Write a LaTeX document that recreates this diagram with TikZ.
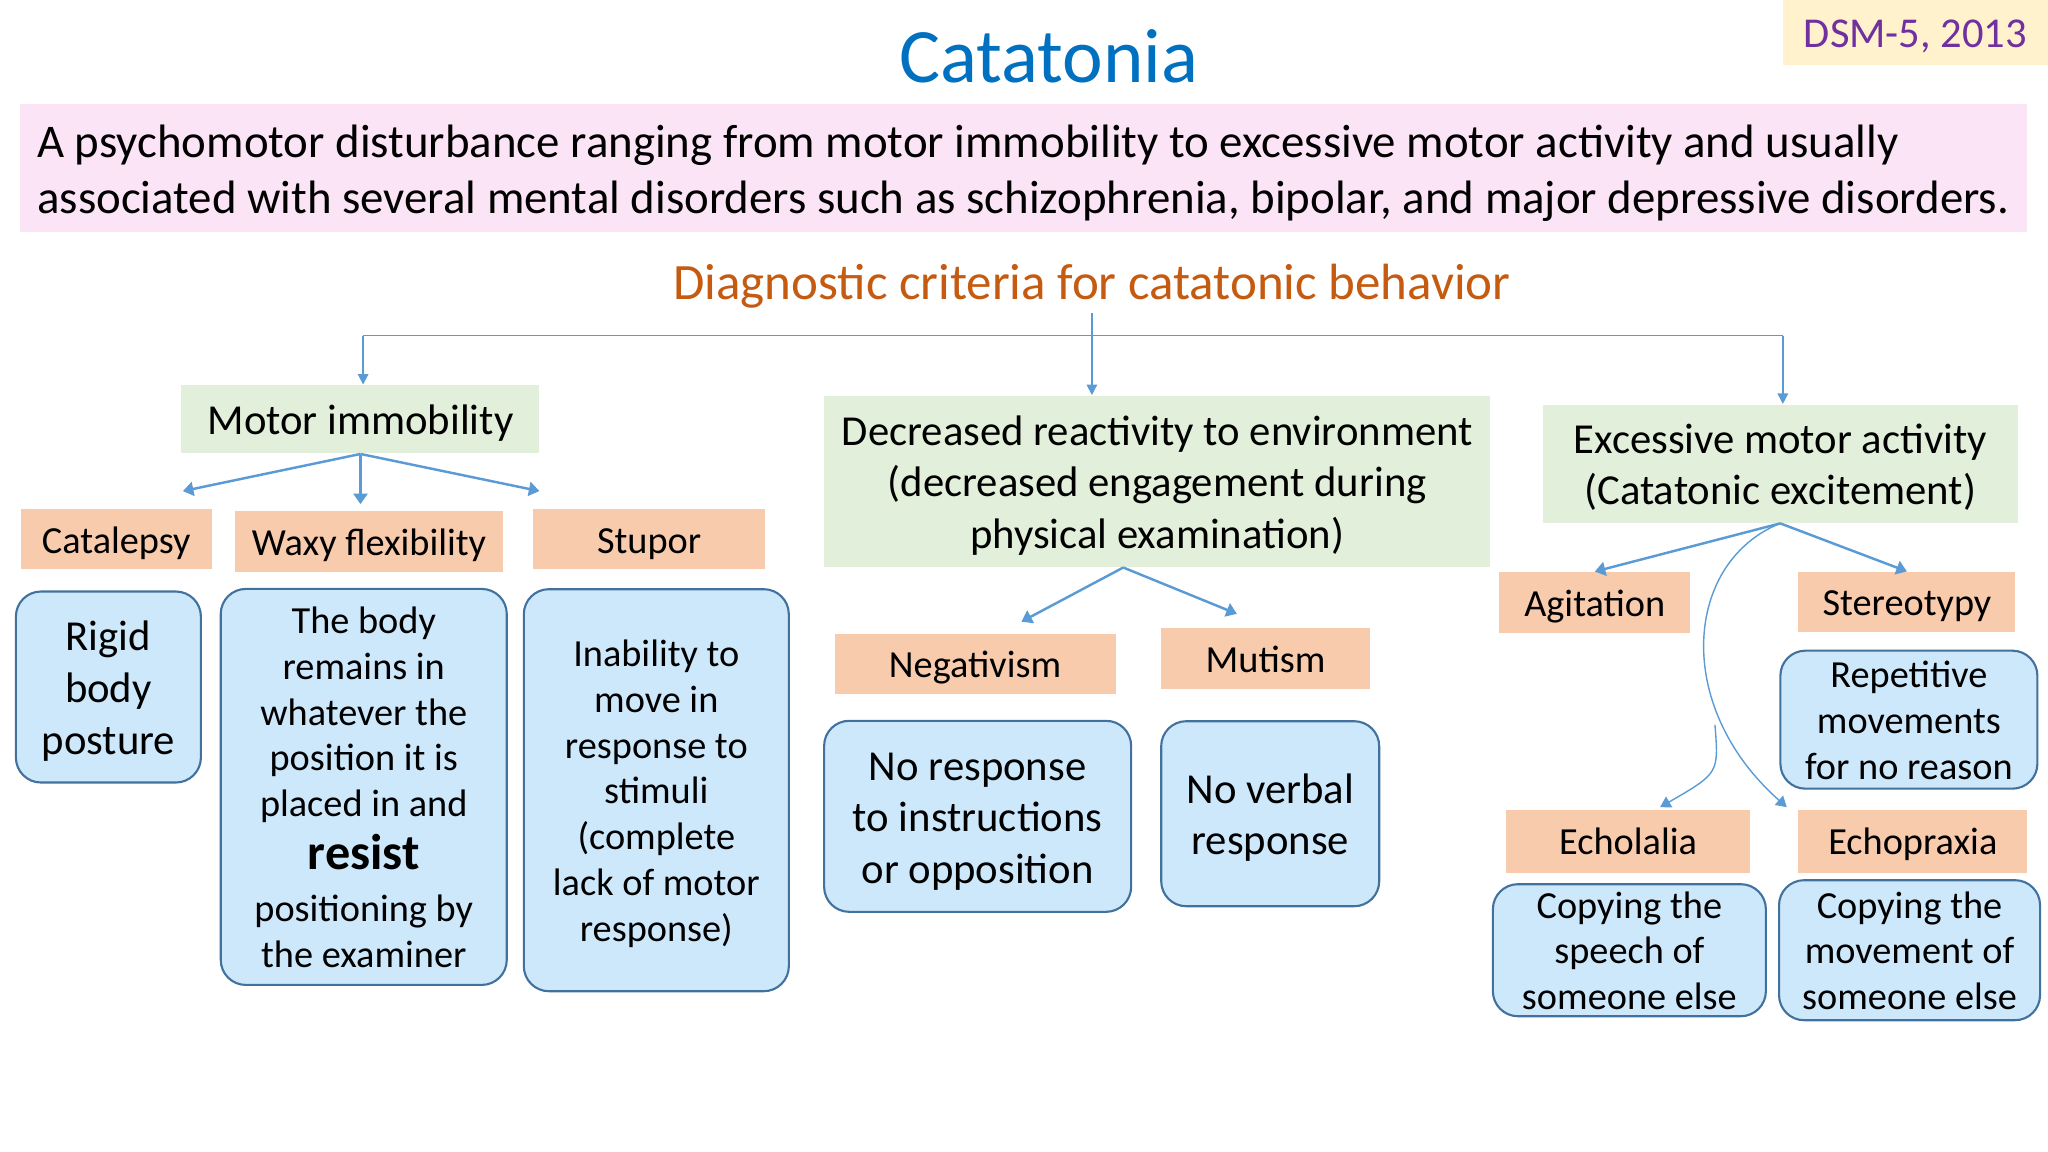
\documentclass[tikz,border=0pt]{standalone}
\usepackage{fontspec}
\setmainfont{Carlito}
\usepackage{tikz}
\usepackage{xcolor}
\usetikzlibrary{positioning,arrows.meta,calc}
\definecolor{titleblue}{HTML}{0070C0}
\definecolor{dsmpurple}{HTML}{7030A0}
\definecolor{dsmyellow}{HTML}{FFF2CC}
\definecolor{descpink}{HTML}{FCE4F7}
\definecolor{critorange}{HTML}{C55A11}
\definecolor{boxgreen}{HTML}{E2EFDA}
\definecolor{boxorange}{HTML}{F8CBAD}
\definecolor{boxblue}{HTML}{CDE8FB}
\definecolor{edgeblue}{HTML}{41719C}
\definecolor{lineblue}{HTML}{5B9BD5}
\newcommand{\bigtxt}{\fontsize{12.15}{14.7}\selectfont}
\newcommand{\smalltxt}{\fontsize{10.9}{13}\selectfont}
\newcommand{\upstrut}{\rule{0pt}{0.97em}}
\newcommand{\downstrut}{\rule[-0.25em]{0pt}{0.25em}}

\begin{document}
\begin{tikzpicture}[x=0.01306cm, y=-0.01306cm,
    officetext/.style={execute at begin node=\upstrut, execute at end node=\downstrut},
    greenbox/.style={officetext, fill=boxgreen, align=flush center, inner sep=0pt, font=\bigtxt},
    orangebox/.style={officetext, fill=boxorange, inner sep=0pt, font=\smalltxt},
    bluebox/.style={officetext, draw=edgeblue, fill=boxblue, line width=0.6pt, rounded corners=0.25cm, align=flush center, inner xsep=2pt, inner ysep=-4pt},
    conn/.style={draw=lineblue, line width=0.7pt, -{Triangle[length=3pt,width=4pt]}},
    busline/.style={draw=lineblue, line width=0.45pt},
    busarrow/.style={busline, -{Triangle[length=3pt,width=3pt]}},
    curvearrow/.style={draw=lineblue, line width=0.4pt, -{Triangle[length=3pt,width=3.5pt]}}]
    \useasboundingbox (0,0) rectangle (1568,882);

    % Heading, source and definition
    \node[officetext, text=titleblue, inner sep=0pt, font=\fontsize{21.9}{26}\selectfont] (title) at (803,42) {Catatonia};
    \node[officetext, fill=dsmyellow, text=dsmpurple, minimum width=2.65cm, minimum height=0.65cm, inner sep=0pt, font=\fontsize{12.1}{14}\selectfont] (dsm) at (1466.5,25) {DSM-5, 2013};
    \node[fill=descpink, minimum width=20.07cm, minimum height=1.28cm] (descbox) at (783.5,129) {};
    \node[officetext, anchor=west, text width=19.95cm, align=flush left, inner sep=0pt, font=\fontsize{13.33}{15.9}\selectfont] (desc) at (28,129)
        {A psychomotor disturbance ranging from motor immobility to excessive motor activity and usually\\
         associated with several mental disorders such as schizophrenia, bipolar, and major depressive disorders.};
    \node[officetext, text=critorange, inner sep=0pt, font=\fontsize{14.5}{17}\selectfont] (crit) at (836,215) {Diagnostic criteria for catatonic behavior};

    % Three groups
    \node[greenbox, minimum width=3.58cm, minimum height=0.68cm] (immob) at (276,321) {Motor immobility};
    \node[greenbox, minimum width=6.66cm, minimum height=1.71cm, text width=6.56cm] (react) at (886,368.5) {Decreased reactivity to environment\\(decreased engagement during\\physical examination)};
    \node[greenbox, minimum width=4.75cm, minimum height=1.18cm, text width=4.65cm] (excite) at (1363,355) {Excessive motor activity\\(Catatonic excitement)};

    % Signs
    \node[orangebox, minimum width=1.91cm, minimum height=0.60cm] (catal) at (89,413) {Catalepsy};
    \node[orangebox, minimum width=2.68cm, minimum height=0.61cm] (waxy) at (282.5,414.5) {Waxy flexibility};
    \node[orangebox, minimum width=2.32cm, minimum height=0.60cm] (stupor) at (497,413) {Stupor};
    \node[orangebox, minimum width=2.81cm, minimum height=0.60cm] (negat) at (746.5,508) {Negativism};
    \node[orangebox, minimum width=2.09cm, minimum height=0.61cm] (mutism) at (969,504.5) {Mutism};
    \node[orangebox, minimum width=1.91cm, minimum height=0.61cm] (agit) at (1221,461.5) {Agitation};
    \node[orangebox, minimum width=2.17cm, minimum height=0.60cm] (stereo) at (1460,461) {Stereotypy};
    \node[orangebox, minimum width=2.44cm, minimum height=0.63cm] (echol) at (1246.5,644) {Echolalia};
    \node[orangebox, minimum width=2.29cm, minimum height=0.63cm] (echop) at (1464.5,644) {Echopraxia};

    % Descriptions
    \node[bluebox, minimum width=1.85cm, minimum height=1.91cm, text width=1.65cm, font=\bigtxt] (rigid) at (83,526) {Rigid\\body\\posture};
    \node[bluebox, minimum width=2.86cm, minimum height=3.96cm, text width=2.66cm, font=\smalltxt] (bodyrem) at (278.5,602.5)
        {The body\\remains in\\whatever the\\position it is\\placed in and\\[2pt]{\fontsize{14.3}{16}\selectfont\bfseries resist}\\[2pt]positioning by\\the examiner};
    \node[bluebox, minimum width=2.65cm, minimum height=4.02cm, text width=2.45cm, font=\smalltxt] (inab) at (502.5,605)
        {Inability to\\move in\\response to\\stimuli\\(complete\\lack of motor\\response)};
    \node[bluebox, minimum width=3.07cm, minimum height=1.91cm, text width=2.87cm, font=\bigtxt] (noresp) at (748.5,625) {No response\\to instructions\\or opposition};
    \node[bluebox, minimum width=2.18cm, minimum height=1.85cm, text width=1.98cm, font=\bigtxt] (noverb) at (972.5,623) {No verbal\\response};
    \node[bluebox, minimum width=2.57cm, minimum height=1.38cm, text width=2.37cm, font=\smalltxt] (repet) at (1461.5,551) {Repetitive\\movements\\for no reason};
    \node[bluebox, minimum width=2.73cm, minimum height=1.32cm, text width=2.53cm, font=\smalltxt] (copysp) at (1247.5,727.5) {Copying the\\speech of\\someone else};
    \node[bluebox, minimum width=2.61cm, minimum height=1.40cm, text width=2.41cm, font=\smalltxt] (copymv) at (1462,727.5) {Copying the\\movement of\\someone else};

    % Top bus
    \coordinate (busL) at (278,257);
    \coordinate (busR) at (1365,257);
    \draw[busline] (busL) -- (busR);
    \draw[busarrow] (busL) -- (busL |- immob.north);
    \draw[busarrow] (crit.south) -- (crit.south |- react.north);
    \draw[busarrow] (busR) -- (busR |- excite.north);

    % Motor immobility branches
    \coordinate (tipCatal) at (140,376);
    \coordinate (tipWaxy) at (276,386);
    \coordinate (tipStupor) at (413,376);
    \draw[conn] (immob.south) -- (tipCatal);
    \draw[conn] (immob.south) -- (tipWaxy);
    \draw[conn] (immob.south) -- (tipStupor);

    % Decreased reactivity branches
    \coordinate (tipNegat) at (782,476);
    \coordinate (tipMutism) at (947,470);
    \draw[conn] ($(react.south)+(-26,0)$) -- (tipNegat);
    \draw[conn] ($(react.south)+(-26,0)$) -- (tipMutism);

    % Excitement branches
    \draw[conn] (excite.south) -- (agit.north);
    \draw[conn] (excite.south) -- (stereo.north);
    \coordinate (tipEchop) at (1368,618);
    \coordinate (tipEchol) at (1271,618);
    \coordinate (split) at (1313,555);
    \draw[curvearrow] (excite.south) .. controls (1290,430) and (1280,540) .. (tipEchop);
    \draw[curvearrow] (split) .. controls (1316,592) .. (tipEchol);
\end{tikzpicture}
\end{document}
